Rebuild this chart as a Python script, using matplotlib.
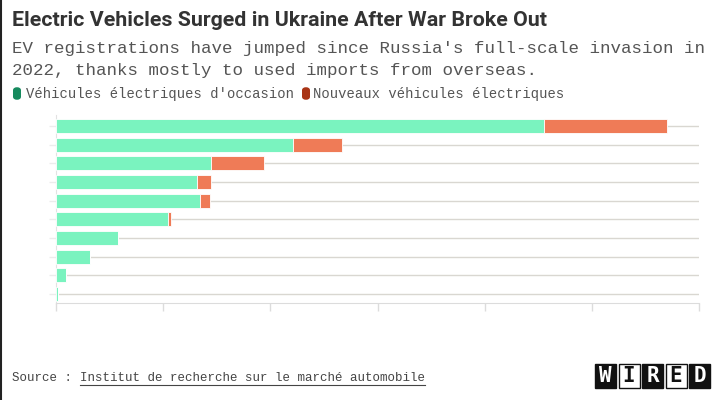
import matplotlib
matplotlib.use('Agg')
import matplotlib.pyplot as plt
from matplotlib.patches import FancyBboxPatch, Rectangle
from matplotlib.lines import Line2D

# rows top to bottom (labels are not shown in the chart)
rows = ['2023', '2022', '2021', '2020', '2019', '2018', '2017', '2016', '2015', '2014']
used_evs = [22770, 11040, 7230, 6590, 6720, 5230, 2910, 1590, 470, 70]
new_evs = [5720, 2290, 2460, 650, 480, 150, 0, 0, 0, 0]
x_ticks = [0, 5000, 10000, 15000, 20000, 25000, 30000]

title = "Electric Vehicles Surged in Ukraine After War Broke Out"
subtitle = ["EV registrations have jumped since Russia's full-scale invasion in",
            "2022, thanks mostly to used imports from overseas."]
legend_labels = ["Véhicules électriques d'occasion", "Nouveaux véhicules électriques"]
source_label = "Source : "
source_name = "Institut de recherche sur le marché automobile"

green = '#7af3bf'
orange = '#ef7b57'
W, H = 720, 400


def px(x, y):
    # pixel position -> figure fraction
    return x / W, 1 - y / H


fig = plt.figure(figsize=(7.2, 4.0), dpi=100)
fig.patch.set_facecolor('white')

# chart area
ax = fig.add_axes([56 / W, 1 - 303 / H, (699 - 56) / W, (303 - 115) / H])
y = list(range(len(rows)))
ax.barh(y, used_evs, height=0.75, color=green, edgecolor='white', linewidth=0.6, zorder=3)
ax.barh(y, new_evs, left=used_evs, height=0.75, color=orange, edgecolor='white', linewidth=0.6, zorder=3)
ax.set_ylim(9.48, -0.6)
ax.set_xlim(0, 30000)
ax.set_xticks(x_ticks)
ax.set_xticklabels([])
ax.set_yticks(y)
ax.set_yticklabels([])
ax.grid(axis='y', color='#d9d7d1', linewidth=1, zorder=0)
for s in ['top', 'right']:
    ax.spines[s].set_visible(False)
ax.spines['left'].set_color('#e2e2e2')
ax.spines['bottom'].set_color('#dcdcdc')
ax.tick_params(axis='x', length=6, width=1, color='#dcdcdc')
ax.tick_params(axis='y', length=5, width=1, color='#ececec')

# header
fig.text(*px(12, 20), title, fontsize=15.4, fontweight='bold', color='#333333',
         family='Roboto', va='center')
fig.text(*px(12, 48), subtitle[0], fontsize=12.6, color='#555555', family='Liberation Mono', va='center')
fig.text(*px(12, 70), subtitle[1], fontsize=12.6, color='#555555', family='Liberation Mono', va='center')

# legend
for mx, tx, col, lab in [(13, 26, '#168a5e', legend_labels[0]), (302, 313, '#a93415', legend_labels[1])]:
    x0, y0 = px(mx, 100)
    fig.add_artist(FancyBboxPatch((x0, y0), 8 / W, 13 / H, boxstyle='round,pad=0,rounding_size=0.008',
                                  transform=fig.transFigure, facecolor=col, edgecolor='none'))
    fig.text(*px(tx, 94), lab, fontsize=10, color='#555555', family='Liberation Mono', va='center')

# source with underline
fig.text(*px(12, 378), source_label, fontsize=9, color='#444444', family='Liberation Mono', va='center')
src = fig.text(*px(80, 378), source_name, fontsize=9, color='#444444', family='Liberation Mono', va='center')
fig.canvas.draw()
bb = src.get_window_extent()
fig.add_artist(Line2D([bb.x0 / W, bb.x1 / W], [(bb.y0 - 1) / H, (bb.y0 - 1) / H],
                      transform=fig.transFigure, color='#444444', linewidth=0.8))

# WIRED logo
for i, ch in enumerate('WIRED'):
    bx = 595 + i * 23.5
    dark = i % 2 == 0
    x0, y0 = px(bx, 388)
    fig.add_artist(Rectangle((x0, y0), 21 / W, 24 / H, transform=fig.transFigure,
                             facecolor='#111111' if dark else 'white', edgecolor='#111111', linewidth=1))
    fig.text(*px(bx + 10.5, 376.5), ch, fontsize=15, fontweight='bold', family='DejaVu Sans Mono',
             color='white' if dark else '#111111', ha='center', va='center')

# left frame line
fig.add_artist(Line2D([0.8 / W, 0.8 / W], [0, 1], transform=fig.transFigure, color='#222222', linewidth=1.5))

fig.savefig('out.png', dpi=100, facecolor='white')
